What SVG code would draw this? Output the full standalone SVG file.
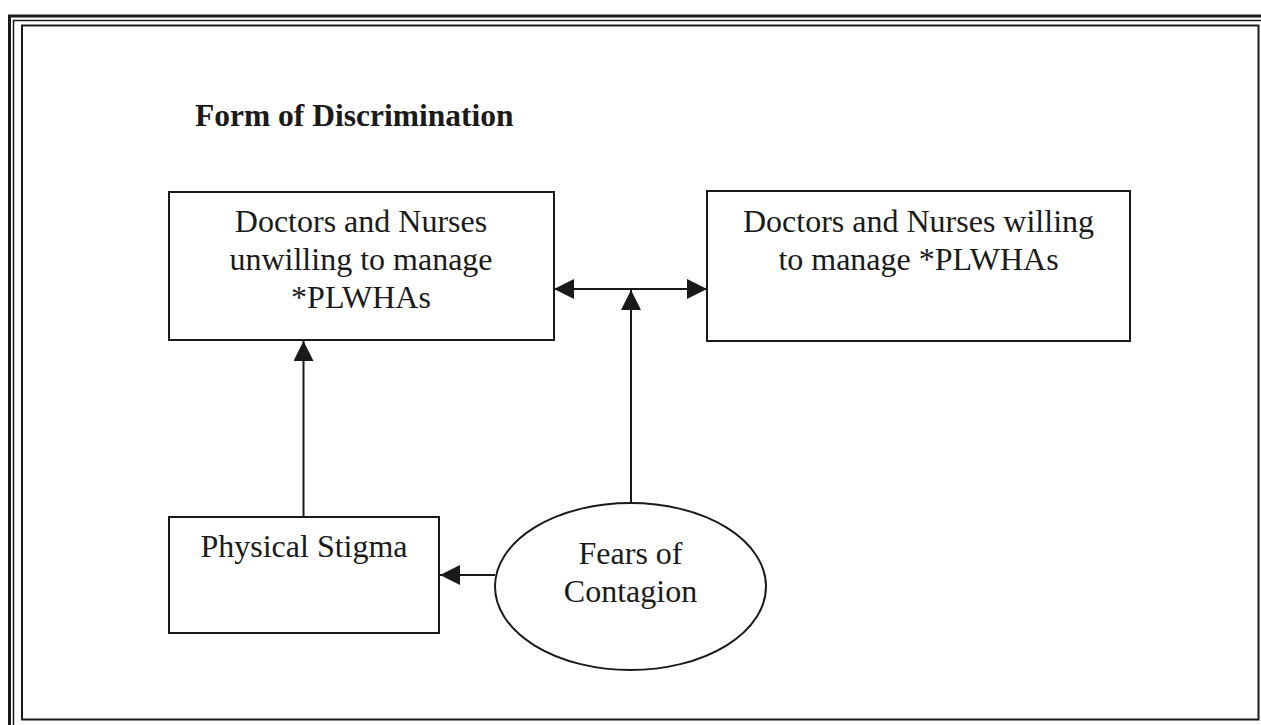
<svg xmlns="http://www.w3.org/2000/svg" width="1261" height="725" viewBox="0 0 1261 725">
<style>
.frame{fill:none;stroke:#1a1a1a}
.box{fill:none;stroke:#1a1a1a;stroke-width:2}
.t{font-family:"Liberation Serif","Times New Roman",serif;font-size:32px;fill:#1a1a1a;text-anchor:middle}
.title{font-family:"Liberation Serif","Times New Roman",serif;font-size:31.5px;font-weight:bold;fill:#1a1a1a}
.c{fill:none;stroke:#1a1a1a;stroke-width:2}
</style>
<defs>
<marker id="ah" viewBox="0 0 20 20" refX="20" refY="10" markerWidth="20" markerHeight="20" markerUnits="userSpaceOnUse" orient="auto-start-reverse">
<path d="M0,0 L20,10 L0,20 Z" fill="#1a1a1a"/>
</marker>
</defs>
<rect width="1261" height="725" fill="#ffffff"/>
<g id="frame">
<rect class="frame" x="9.5" y="16" width="1300" height="800" stroke-width="3"/>
<rect class="frame" x="13.5" y="20.5" width="1300" height="800" stroke-width="1.5"/>
<rect class="frame" x="22" y="25.5" width="1236.5" height="694" stroke-width="2"/>
</g>
<g id="title">
<text class="title" x="195" y="126">Form of Discrimination</text>
</g>
<g id="unwilling">
<rect class="box" x="169" y="192" width="385" height="148"/>
<text class="t" x="361" y="232">Doctors and Nurses</text>
<text class="t" x="361" y="270">unwilling to manage</text>
<text class="t" x="361" y="308">*PLWHAs</text>
</g>
<g id="willing">
<rect class="box" x="707" y="191" width="423" height="150"/>
<text class="t" x="918.5" y="232">Doctors and Nurses willing</text>
<text class="t" x="918.5" y="270">to manage *PLWHAs</text>
</g>
<g id="stigma">
<rect class="box" x="169" y="517" width="270" height="116"/>
<text class="t" x="304" y="557">Physical Stigma</text>
</g>
<g id="fears">
<ellipse class="box" cx="630.5" cy="586.5" rx="135.5" ry="83.5"/>
<text class="t" x="630.5" y="564">Fears of</text>
<text class="t" x="630.5" y="602">Contagion</text>
</g>
<g id="connectors">
<line class="c" x1="554" y1="289" x2="707" y2="289" marker-start="url(#ah)" marker-end="url(#ah)"/>
<line class="c" x1="631" y1="503" x2="631" y2="290" marker-end="url(#ah)"/>
<line class="c" x1="303.5" y1="517" x2="303.5" y2="341" marker-end="url(#ah)"/>
<line class="c" x1="495" y1="575" x2="440" y2="575" marker-end="url(#ah)"/>
</g>
</svg>
